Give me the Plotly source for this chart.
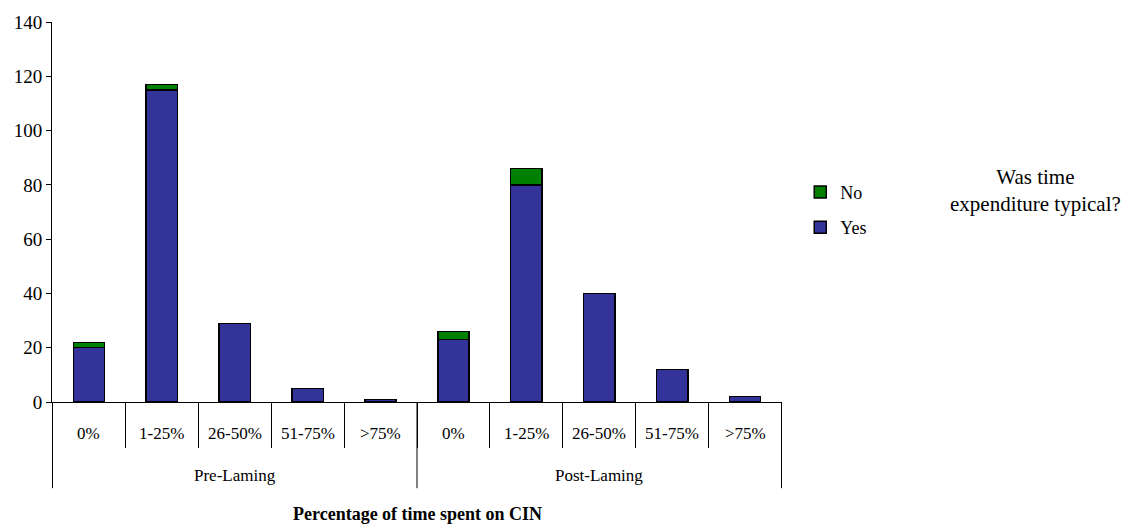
import plotly.graph_objects as go

periods = ["Pre-Laming"] * 5 + ["Post-Laming"] * 5
bands = ["0%", "1-25%", "26-50%", "51-75%", ">75%"] * 2
period_names = ["Pre-Laming", "Post-Laming"]
yes_counts = [20, 115, 29, 5, 1, 23, 80, 40, 12, 2]
no_counts = [2, 2, 0, 0, 0, 3, 6, 0, 0, 0]
y_ticks = [0, 20, 40, 60, 80, 100, 120, 140]

serif = "Liberation Serif, Times New Roman, serif"
plot_h = 388  # pixel height of the plotting area (524 - 14 - 122)


def px_below(p):
    """Convert a pixel offset below the x axis into paper units."""
    return -p / plot_h


fig = go.Figure()
fig.add_trace(go.Bar(
    x=[periods, bands], y=yes_counts, name="Yes",
    legendgroup="yes", legendrank=2,
    marker=dict(color="#333399", line=dict(color="black", width=1.5)),
))
fig.add_trace(go.Bar(
    x=[periods, bands], y=no_counts, name="No",
    legendgroup="no", legendrank=1,
    marker=dict(color="#008000", line=dict(color="black", width=1.5)),
))

annotations = []
# band labels under each bar, placed on the category index of the x axis
for i, b in enumerate(bands):
    annotations.append(dict(
        text=b, xref="x", yref="paper", x=i, y=px_below(32),
        xanchor="center", yanchor="middle", showarrow=False,
        font=dict(size=17, family=serif),
    ))
# period labels centred under each group of five bands
n_per = len(bands) // len(period_names)
for g, name in enumerate(period_names):
    annotations.append(dict(
        text=name, xref="x", yref="paper", x=g * n_per + (n_per - 1) / 2,
        y=px_below(75), xanchor="center", yanchor="middle", showarrow=False,
        font=dict(size=17, family=serif),
    ))
annotations.append(dict(
    text="<b>Percentage of time spent on CIN</b>",
    xref="paper", yref="paper", x=0.5, y=px_below(114),
    xanchor="center", yanchor="middle", showarrow=False,
    font=dict(size=18, family=serif),
))
annotations.append(dict(
    text="Was time<br>expenditure typical?",
    xref="paper", yref="paper", x=1.347, y=0.556,
    xanchor="center", yanchor="middle", showarrow=False,
    font=dict(size=21, family=serif),
))

# group dividers running down through both label rows
shapes = []
for g in range(len(period_names) + 1):
    xg = g * n_per - 0.5
    shapes.append(dict(
        type="line", xref="x", yref="paper", x0=xg, x1=xg,
        y0=0, y1=px_below(88), line=dict(color="black", width=1),
    ))

fig.update_layout(
    barmode="stack",
    bargap=0.57,
    width=1137, height=524,
    margin=dict(l=52, r=355, t=14, b=122),
    plot_bgcolor="white", paper_bgcolor="white",
    font=dict(family=serif, size=18, color="black"),
    showlegend=True,
    legend=dict(
        traceorder="grouped",
        x=1.025, y=0.506, xanchor="left", yanchor="middle",
        font=dict(size=18, family=serif),
        tracegroupgap=9,
    ),
    annotations=annotations,
    shapes=shapes,
)

fig.update_yaxes(
    range=[0, 140], tickvals=y_ticks,
    showline=True, linecolor="black", linewidth=1,
    ticks="outside", ticklen=5, tickcolor="black",
    showgrid=False, zeroline=False,
    tickfont=dict(size=19, family=serif),
)
fig.update_xaxes(
    type="multicategory",
    showline=True, linecolor="black", linewidth=1,
    ticks="outside", tickson="boundaries", ticklen=45, tickcolor="black",
    showticklabels=False, showdividers=False,
    showgrid=False,
)

fig.write_html("out.html")
